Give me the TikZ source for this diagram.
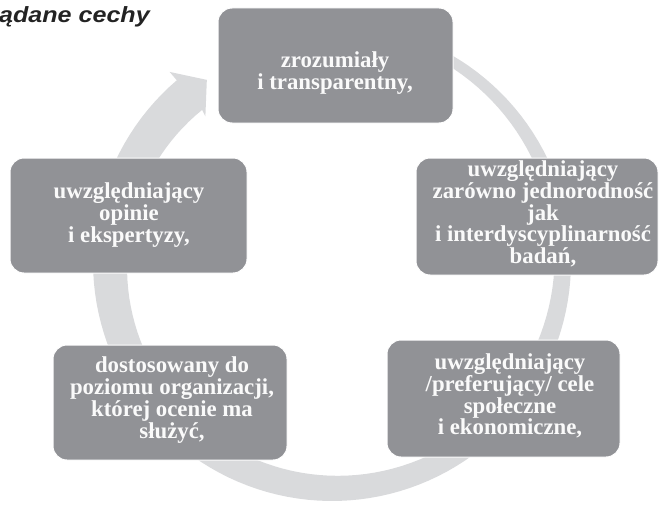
\documentclass[tikz,border=0pt]{standalone}
\usepackage{fontspec}
\setmainfont{Liberation Serif}
\setsansfont{Liberation Sans}
\definecolor{boxgray}{RGB}{145,146,150}
\definecolor{ringgray}{RGB}{217,218,220}
\definecolor{txtwhite}{RGB}{250,250,250}
\definecolor{titlegray}{RGB}{35,35,35}
\begin{document}
\begin{tikzpicture}[x=1pt,y=-1pt,
  box/.style={draw=white, line width=1pt, fill=boxgray, rounded corners=14pt, inner sep=0pt},
  lbl/.style={text=txtwhite, align=center, inner sep=0pt, font=\bfseries\fontsize{22.8}{21.7}\selectfont},
  ttl/.style={text=titlegray, inner sep=0pt, font=\sffamily\bfseries\itshape\fontsize{22}{24}\selectfont}]
\useasboundingbox (0,0) rectangle (660,508);
\clip (0,0) rectangle (660,508);
% circular arrow
\fill[ringgray] plot[domain=65:-229.5,samples=120] ({332+239*cos(\x)},{262-239*sin(\x)})
  -- ({332+250*cos(130.5)},{262-250*sin(130.5)})
  -- ({332+221*cos(124.5)},{262-221*sin(124.5)})
  -- ({332+193*cos(131)},{262-193*sin(131)})
  -- plot[domain=-229.5:65,samples=120] ({332+(200+(\x+229.5)*0.0985)*cos(\x)},{262-(200+(\x+229.5)*0.0985)*sin(\x)})
  -- cycle;
% title
\node[ttl, anchor=base west] (title) at (-1,22.5) {\scalebox{1.14}[1]{ądane cechy}};
% boxes
\node[box, minimum width=235pt, minimum height=115pt] (b1) at (335.5,65.5) {};
\node[box, minimum width=242pt, minimum height=117pt] (b2) at (537,216.5) {};
\node[box, minimum width=233pt, minimum height=117pt] (b3) at (503.5,398.5) {};
\node[box, minimum width=234pt, minimum height=115pt] (b4) at (170,402.5) {};
\node[box, minimum width=237pt, minimum height=115pt] (b5) at (128.5,215.5) {};
% texts
\node[lbl] (t1) at (335,73) {zrozumiały\\i transparentny,};
\node[lbl] (t2) at (543,214) {uwzględniający\\zarówno jednorodność\\jak\\i interdyscyplinarność\\badań,};
\node[lbl] (t3) at (510,396) {uwzględniający\\/preferujący/ cele\\społeczne\\i ekonomiczne,};
\node[lbl] (t4) at (172,400) {dostosowany do\\poziomu organizacji,\\której ocenie ma\\służyć,};
\node[lbl] (t5) at (129,215) {uwzględniający\\opinie\\i ekspertyzy,};
\end{tikzpicture}
\end{document}
